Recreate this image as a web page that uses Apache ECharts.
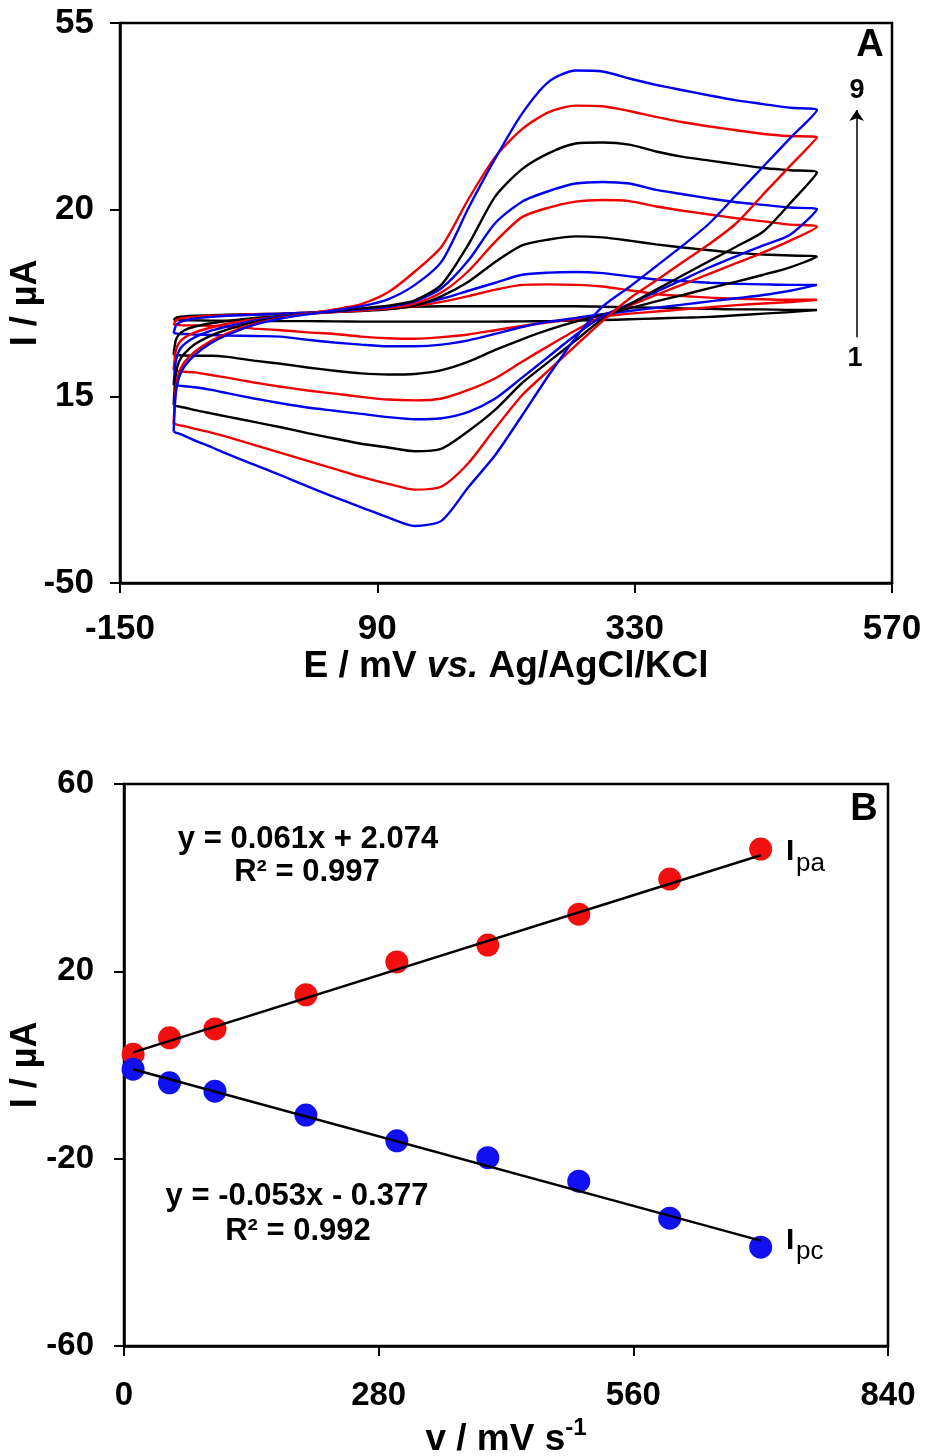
<!DOCTYPE html>
<html><head><meta charset="utf-8">
<script src="https://cdn.jsdelivr.net/npm/echarts@6/dist/echarts.min.js"></script>
<style>html,body{margin:0;padding:0;background:#fff}#c{width:925px;height:1456px}</style>
</head><body><div id="c"></div>
<script>
// ---------- Panel A: cyclic voltammograms ----------
const E_GRID = [-100,-98,-95,-90,-80,-65,-50,-25,0,25,50,75,100,125,150,175,200,225,250,275,300,325,350,375,400,425,450,475,500];
const CURVE_COLORS = ['#000000','#ee0000','#0000ee','#000000','#ee0000','#0000ee','#000000','#ee0000','#0000ee'];

const FWD1 = [-0.7,-0.3,-0.1,0,0.1,0.2,0.3,0.4,0.5,0.7,1.0,1.4,1.7,1.8,1.9,1.9,1.9,1.9,1.9,1.9,1.8,1.7,1.6,1.5,1.4,1.3,1.3,1.2,1.2];
const REV1 = [-0.7,-0.7,-0.7,-0.75,-0.75,-0.8,-0.8,-0.85,-0.9,-0.9,-0.95,-1.0,-1.0,-1.0,-1.0,-1.0,-1.0,-0.95,-0.9,-0.8,-0.7,-0.55,-0.4,-0.25,-0.1,0.2,0.5,0.8,1.2];
const FWD2 = [-1.6,-0.8,-0.5,-0.3,-0.1,0.1,0.2,0.4,0.5,0.7,0.9,1.1,1.4,1.9,2.7,3.8,5.0,5.9,6.0,5.9,5.6,4.9,4.2,3.8,3.5,3.3,3.2,3.1,3.1];
const REV2 = [-1.6,-1.6,-1.65,-1.7,-1.7,-1.8,-1.9,-2.3,-2.6,-3.0,-3.3,-3.8,-4.1,-4.2,-3.9,-3.4,-2.6,-1.8,-1.1,-0.5,0.0,0.5,0.9,1.3,1.7,2.1,2.4,2.7,3.1];
const FWD3 = [-3.2,-1.8,-1.2,-0.8,-0.4,-0.1,0.1,0.3,0.5,0.7,0.9,1.1,1.5,2.2,3.3,4.8,6.3,7.8,8.2,8.3,8.1,7.5,6.9,6.6,6.3,6.1,6.0,5.9,5.9];
const REV3 = [-3.2,-3.2,-3.3,-3.3,-3.4,-3.5,-3.6,-3.7,-3.8,-4.4,-4.9,-5.3,-5.6,-5.6,-5.3,-4.5,-3.3,-2.0,-1.0,-0.3,0.4,1.0,1.6,2.2,2.8,3.4,4.0,4.8,5.9];
const FWD4 = [-7.2,-4.5,-3.4,-2.6,-1.9,-1.3,-0.9,-0.3,0.1,0.5,0.8,1.0,1.3,2.0,3.8,6.5,10.2,13.3,14.4,15.0,14.8,14.2,13.5,12.9,12.4,11.9,11.6,11.4,11.2];
const REV4 = [-7.2,-7.3,-7.3,-7.35,-7.4,-7.4,-7.6,-8.3,-8.9,-9.6,-10.2,-10.7,-10.9,-10.8,-10.1,-8.5,-6.3,-4.3,-2.5,-1.0,0.3,1.5,2.8,4.0,5.3,6.5,7.8,9.2,11.2];
const FWD5 = [-10.1,-6.5,-5.0,-4.0,-3.0,-2.1,-1.4,-0.6,0,0.5,0.8,1.1,1.5,2.4,4.5,8.5,14.0,18.6,20.4,21.5,21.8,21.6,20.6,19.8,19.1,18.4,17.8,17.2,16.8];
const REV5 = [-10.1,-10.2,-10.3,-10.4,-10.5,-11.0,-11.5,-12.4,-13.2,-13.9,-14.5,-15.1,-15.6,-15.75,-15.4,-13.8,-11.6,-8.5,-5.5,-2.6,0.0,2.0,4.0,6.0,8.0,10.0,12.0,14.2,16.8];
const FWD6 = [-12.9,-8.5,-6.5,-5.2,-3.9,-2.7,-1.9,-0.8,0,0.5,0.9,1.3,1.8,2.8,5.3,10.5,17.5,21.5,23.5,24.9,25.2,24.9,23.7,22.9,22.1,21.4,20.9,20.4,20.1];
const REV6 = [-12.9,-12.9,-13.0,-13.1,-13.3,-13.8,-14.4,-15.4,-16.3,-17.1,-17.7,-18.3,-18.9,-19.3,-19.1,-17.9,-15.4,-11.5,-7.5,-3.5,0.0,2.3,4.6,6.9,9.2,11.3,13.3,15.3,20.1];
const FWD7 = [-16.6,-11.0,-8.5,-7.0,-5.2,-3.6,-2.5,-1.1,-0.2,0.5,1.0,1.5,2.0,3.0,6.0,13.5,22.5,27.6,30.6,32.4,32.6,32.2,30.9,29.9,29.2,28.5,27.8,27.4,27.0];
const REV7 = [-16.6,-16.8,-16.9,-17.1,-17.6,-18.2,-18.8,-19.8,-20.8,-21.9,-22.9,-23.9,-24.6,-25.3,-24.8,-21.5,-17.5,-12.5,-8.5,-4.5,-0.5,2.2,5.0,7.7,10.4,13.1,15.9,21.2,27.0];
const FWD8 = [-20.1,-13.5,-10.5,-8.6,-6.6,-4.6,-3.2,-1.4,-0.3,0.5,1.3,2.3,4.5,8.4,13.1,22.0,29.9,35.1,38.3,39.5,39.4,38.5,37.4,36.4,35.6,34.9,34.2,33.8,33.6];
const REV8 = [-20.1,-20.2,-20.4,-20.6,-21.1,-21.8,-22.6,-24.1,-25.6,-27.1,-28.6,-30.1,-31.4,-32.5,-31.9,-27.5,-21.0,-14.8,-10.1,-5.5,-0.9,3.3,6.7,10.2,13.6,17.5,22.9,28.2,33.6];
const FWD9 = [-21.6,-14.5,-11.5,-9.4,-7.2,-5.0,-3.5,-1.6,-0.4,0.4,1.1,1.9,3.2,5.9,10.3,20.3,29.6,38.0,44.0,46.1,45.9,44.6,43.4,42.4,41.4,40.5,39.8,39.1,38.7];
const REV9 = [-21.6,-21.8,-22.0,-22.4,-23.3,-24.5,-25.8,-27.8,-29.8,-31.9,-33.9,-35.8,-37.7,-39.3,-38.3,-32.0,-26.0,-18.6,-11.0,-4.0,1.8,5.5,9.4,13.3,17.5,22.8,28.1,33.4,38.7];

const FWD = [FWD1,FWD2,FWD3,FWD4,FWD5,FWD6,FWD7,FWD8,FWD9];
const REV = [REV1,REV2,REV3,REV4,REV5,REV6,REV7,REV8,REV9];

const A_X_TICKS = [-150, 90, 330, 570];
const A_Y_TICKS = [-50, -15, 20, 55];
const A_Y_LABELS = ['-50', '15', '20', '55'];
const ARROW_E = 537;
const ARROW_FROM = -3.9;
const ARROW_TO = 38.7;

// ---------- Panel B: peak current vs scan rate ----------
const SCAN_RATE = [10, 50, 100, 200, 300, 400, 500, 600, 700];
const IPA = [2.3, 5.8, 7.7, 15.0, 22.0, 25.6, 32.2, 39.7, 46.1];
const IPC = [-0.9, -3.8, -5.6, -10.7, -16.2, -19.8, -24.8, -32.7, -38.9];
const FIT_PA = [[10, 2.7], [700, 44.8]];
const FIT_PC = [[10, -0.9], [700, -37.5]];
const B_X_TICKS = [0, 280, 560, 840];
const B_Y_TICKS = [-60, -20, 20, 60];

const FONT = '"Liberation Sans", Arial, Helvetica, sans-serif';

function loop(fwd, rev) {
  const pts = fwd.map((v, i) => [E_GRID[i], v]);
  for (let i = rev.length - 2; i >= 0; i--) pts.push([E_GRID[i], rev[i]]);
  return pts;
}

const cvSeries = FWD.map((f, k) => ({
  type: 'line', xAxisIndex: 0, yAxisIndex: 0,
  data: loop(f, REV[k]), showSymbol: false, smooth: 0.25,
  lineStyle: { color: CURVE_COLORS[k], width: 2.4 }, itemStyle: { color: CURVE_COLORS[k] },
  silent: true, animation: false, z: 2 + k
}));
cvSeries[0].markLine = {
  silent: true, symbol: ['none', 'arrow'], symbolSize: 11, animation: false,
  label: { show: false },
  lineStyle: { color: '#000', width: 1.5, type: 'solid' },
  data: [[{ coord: [ARROW_E, ARROW_FROM] }, { coord: [ARROW_E, ARROW_TO] }]]
};

const axisCommon = {
  axisLine: { show: true, onZero: false, lineStyle: { color: '#000', width: 2.5 } },
  axisTick: { show: true, inside: false, length: 10, lineStyle: { color: '#000', width: 2 } },
  splitLine: { show: false },
};

const option = {
  backgroundColor: '#fff',
  animation: false,
  grid: [
    { left: 120, top: 23, width: 772, height: 560, show: true, borderColor: '#000', borderWidth: 2.5, backgroundColor: 'transparent', containLabel: false, outerBoundsMode: 'none' },
    { left: 124, top: 784, width: 764, height: 562, show: true, borderColor: '#000', borderWidth: 2.5, backgroundColor: 'transparent', containLabel: false, outerBoundsMode: 'none' }
  ],
  xAxis: [
    Object.assign({}, axisCommon, {
      type: 'value', gridIndex: 0, min: A_X_TICKS[0], max: A_X_TICKS[3], interval: A_X_TICKS[1] - A_X_TICKS[0],
      axisLabel: { margin: 29, color: '#000', fontFamily: FONT, fontWeight: 'bold', fontSize: 35 },
      name: '{b|E / mV }{i|vs.}{b| Ag/AgCl/KCl}', nameLocation: 'middle', nameGap: 64,
      nameTextStyle: { rich: {
        b: { fontFamily: FONT, fontWeight: 'bold', fontSize: 37, color: '#000' },
        i: { fontFamily: FONT, fontWeight: 'bold', fontStyle: 'italic', fontSize: 37, color: '#000' } } }
    }),
    Object.assign({}, axisCommon, {
      type: 'value', gridIndex: 1, min: B_X_TICKS[0], max: B_X_TICKS[3], interval: B_X_TICKS[1] - B_X_TICKS[0],
      axisLabel: { margin: 33, color: '#000', fontFamily: FONT, fontWeight: 'bold', fontSize: 33 },
      name: '{b|v / mV s}{s|-1}', nameLocation: 'middle', nameGap: 70,
      nameTextStyle: { rich: {
        b: { fontFamily: FONT, fontWeight: 'bold', fontSize: 37, color: '#000', lineHeight: 42, verticalAlign: 'bottom' },
        s: { fontFamily: FONT, fontWeight: 'bold', fontSize: 24, color: '#000', lineHeight: 42, verticalAlign: 'top' } } }
    })
  ],
  yAxis: [
    Object.assign({}, axisCommon, {
      type: 'value', gridIndex: 0, min: A_Y_TICKS[0], max: A_Y_TICKS[3], interval: A_Y_TICKS[1] - A_Y_TICKS[0],
      axisLabel: { margin: 26, color: '#000', fontFamily: FONT, fontWeight: 'bold', fontSize: 35,
        formatter: v => { const i = A_Y_TICKS.indexOf(Math.round(v)); return i >= 0 ? A_Y_LABELS[i] : ''; } },
      name: 'I / µA', nameLocation: 'middle', nameGap: 76, nameMoveOverlap: false,
      nameTextStyle: { fontFamily: FONT, fontWeight: 'bold', fontSize: 36, color: '#000' }
    }),
    Object.assign({}, axisCommon, {
      type: 'value', gridIndex: 1, min: B_Y_TICKS[0], max: B_Y_TICKS[3], interval: B_Y_TICKS[1] - B_Y_TICKS[0],
      axisLabel: { margin: 30, color: '#000', fontFamily: FONT, fontWeight: 'bold', fontSize: 33 },
      name: 'I / µA', nameLocation: 'middle', nameGap: 80, nameMoveOverlap: false,
      nameTextStyle: { fontFamily: FONT, fontWeight: 'bold', fontSize: 36, color: '#000' }
    })
  ],
  series: cvSeries.concat([
    { type: 'scatter', xAxisIndex: 1, yAxisIndex: 1, data: SCAN_RATE.map((v, i) => [v, IPA[i]]),
      symbolSize: 23, itemStyle: { color: '#f01010', opacity: 1 }, silent: true, z: 3 },
    { type: 'scatter', xAxisIndex: 1, yAxisIndex: 1, data: SCAN_RATE.map((v, i) => [v, IPC[i]]),
      symbolSize: 23, itemStyle: { color: '#1010f0', opacity: 1 }, silent: true, z: 4 },
    { type: 'line', xAxisIndex: 1, yAxisIndex: 1, data: FIT_PA, showSymbol: false,
      lineStyle: { color: '#000', width: 2.5 }, silent: true, z: 6 },
    { type: 'line', xAxisIndex: 1, yAxisIndex: 1, data: FIT_PC, showSymbol: false,
      lineStyle: { color: '#000', width: 2.5 }, silent: true, z: 6 }
  ]),
  graphic: [
    { type: 'text', x: 870, y: 46, style: { text: 'A', font: 'bold 38px ' + FONT, fill: '#000', align: 'center', verticalAlign: 'middle' } },
    { type: 'text', x: 857, y: 91, style: { text: '9', font: 'bold 27px ' + FONT, fill: '#000', align: 'center', verticalAlign: 'middle' } },
    { type: 'text', x: 855, y: 359, style: { text: '1', font: 'bold 27px ' + FONT, fill: '#000', align: 'center', verticalAlign: 'middle' } },
    { type: 'text', x: 864, y: 810, style: { text: 'B', font: 'bold 38px ' + FONT, fill: '#000', align: 'center', verticalAlign: 'middle' } },
    { type: 'text', x: 308, y: 839, style: { text: 'y = 0.061x + 2.074', font: 'bold 31px ' + FONT, fill: '#000', align: 'center', verticalAlign: 'middle' } },
    { type: 'text', x: 307, y: 872, style: { text: 'R² = 0.997', font: 'bold 31px ' + FONT, fill: '#000', align: 'center', verticalAlign: 'middle' } },
    { type: 'text', x: 297, y: 1196, style: { text: 'y = -0.053x - 0.377', font: 'bold 31px ' + FONT, fill: '#000', align: 'center', verticalAlign: 'middle' } },
    { type: 'text', x: 298, y: 1231, style: { text: 'R² = 0.992', font: 'bold 31px ' + FONT, fill: '#000', align: 'center', verticalAlign: 'middle' } },
    { type: 'text', x: 786, y: 852, style: { text: 'I', font: 'bold 30px ' + FONT, fill: '#000', align: 'left', verticalAlign: 'middle' } },
    { type: 'text', x: 796, y: 864, style: { text: 'pa', font: '26px ' + FONT, fill: '#000', align: 'left', verticalAlign: 'middle' } },
    { type: 'text', x: 786, y: 1241, style: { text: 'I', font: 'bold 30px ' + FONT, fill: '#000', align: 'left', verticalAlign: 'middle' } },
    { type: 'text', x: 796, y: 1252, style: { text: 'pc', font: '26px ' + FONT, fill: '#000', align: 'left', verticalAlign: 'middle' } }
  ]
};

const chart = echarts.init(document.getElementById('c'), null, { renderer: 'canvas', width: 925, height: 1456 });
chart.setOption(option);
</script>
</body></html>
